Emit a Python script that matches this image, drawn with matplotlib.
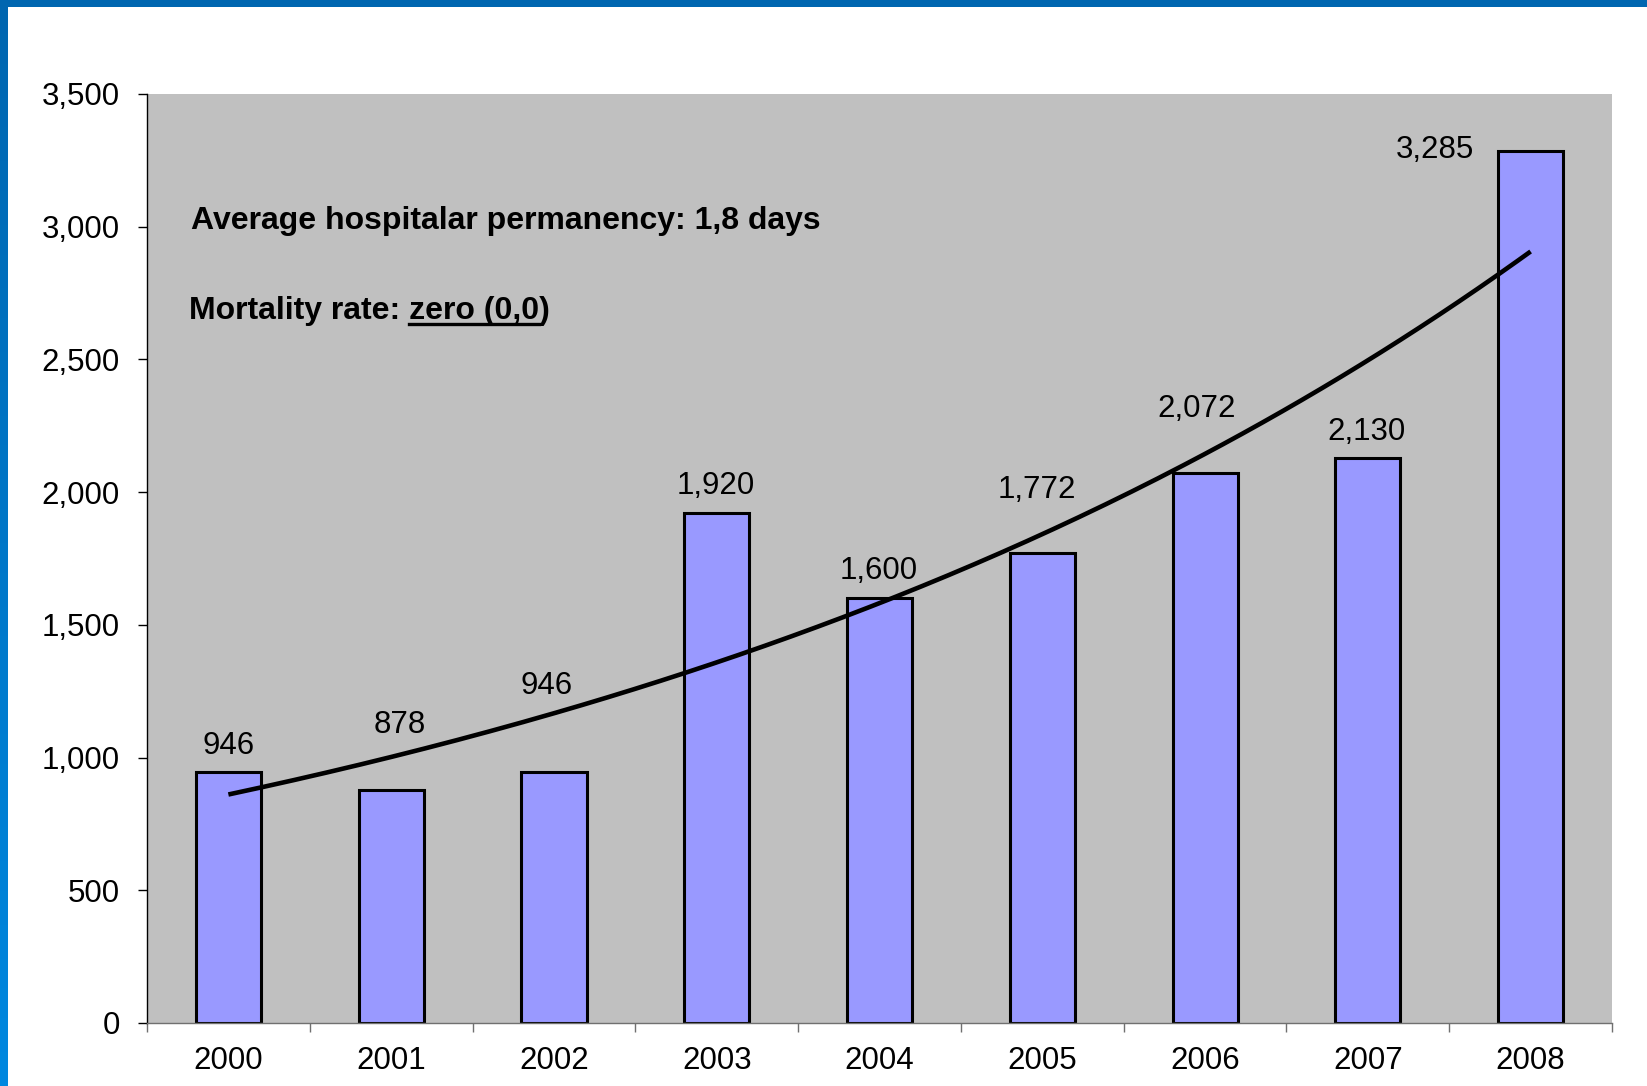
import numpy as np
import matplotlib
matplotlib.use("Agg")
import matplotlib.pyplot as plt
from matplotlib.lines import Line2D
from matplotlib.colors import LinearSegmentedColormap

plt.rcParams['font.family'] = ['Liberation Sans', 'DejaVu Sans']

# data
years = ['2000', '2001', '2002', '2003', '2004', '2005', '2006', '2007', '2008']
cases = [946, 878, 946, 1920, 1600, 1772, 2072, 2130, 3285]
labels = ['946', '878', '946', '1,920', '1,600', '1,772', '2,072', '2,130', '3,285']
# label offsets from bar top (pixels), as placed in the original
lab_dx = [0, 9, -7, -1, -1, -5, -8, -1, -96]
lab_dy = [26, 65, 86, 27, 27, 63, 64, 26, 1]

FS = 22.5

fig = plt.figure(figsize=(16.47, 10.86), dpi=100)
fig.patch.set_facecolor('white')

ax = fig.add_axes([147 / 1647, 1 - 1023 / 1086, 1465 / 1647, 929 / 1086])
ax.set_facecolor('#c0c0c0')

x = np.arange(len(years))
ax.bar(x, cases, width=0.40, color='#9999ff', edgecolor='black', linewidth=2.2, zorder=2)

# exponential trend line (least squares on log values, like Excel)
b, a = np.polyfit(x + 1, np.log(cases), 1)
xt = np.linspace(0, len(years) - 1, 200)
ax.plot(xt, np.exp(a + b * (xt + 1)), color='black', lw=3.3, zorder=3,
        solid_capstyle='butt')

for i in range(len(years)):
    ax.annotate(labels[i], (x[i], cases[i]), xytext=(lab_dx[i], lab_dy[i]),
                textcoords='offset pixels', ha='center', va='center',
                fontsize=FS, zorder=4)

ax.set_xlim(-0.5, len(years) - 0.5)
ax.set_ylim(0, 3500)
ax.set_yticks(np.arange(0, 3501, 500))
ax.set_yticklabels(['{:,}'.format(v) for v in range(0, 3501, 500)])
ax.tick_params(axis='y', length=6.5, width=1, pad=13, labelsize=FS, direction='out')

ax.set_xticks(np.arange(-0.5, len(years), 1))
ax.set_xticklabels([])
ax.set_xticks(x, minor=True)
ax.set_xticklabels(years, minor=True)
ax.tick_params(axis='x', which='major', length=6.5, width=1, color='#707070', direction='out')
ax.tick_params(axis='x', which='minor', length=0, pad=16.5, labelsize=FS)

for s in ['top', 'right']:
    ax.spines[s].set_visible(False)
ax.spines['left'].set_color('black')
ax.spines['bottom'].set_color('#707070')
ax.spines['left'].set_linewidth(1)
ax.spines['bottom'].set_linewidth(1)

# notes
ax.text(0.030, 0.8547, 'Average hospitalar permanency: 1,8 days', transform=ax.transAxes,
        fontsize=23, fontweight='bold', va='baseline', ha='left')
t1 = ax.text(0.0287, 0.7578, 'Mortality rate: zero (0,0)', transform=ax.transAxes,
             fontsize=23, fontweight='bold', va='baseline', ha='left')

# underline "zero (0,0"
fig.canvas.draw()
r = fig.canvas.get_renderer()
full_bb = t1.get_window_extent(r)
tmp = ax.text(0.0287, 0.7578, 'Mortality rate: ', transform=ax.transAxes,
              fontsize=23, fontweight='bold', va='baseline', ha='left')
w0 = tmp.get_window_extent(r).width
tmp.set_text('Mortality rate: zero (0,0')
w1 = tmp.get_window_extent(r).width
tmp.remove()
base_px = ax.transAxes.transform((0, 0.7578))[1]
uy = (base_px - 4.5) / 1086
fig.add_artist(Line2D([(full_bb.x0 + w0) / 1647, (full_bb.x0 + w1) / 1647], [uy, uy],
                      color='black', lw=2.4, transform=fig.transFigure))

# blue frame, top and left
top = fig.add_axes([0, 1 - 7 / 1086, 1, 7 / 1086])
top.set_facecolor('#0066b0')
top.set_xticks([])
top.set_yticks([])
for s in top.spines.values():
    s.set_visible(False)

left = fig.add_axes([0, 0, 8 / 1647, 1])
grad = np.linspace(0, 1, 256).reshape(-1, 1)
cm = LinearSegmentedColormap.from_list('blue', ['#0066b0', '#0088e0'])
left.imshow(grad, aspect='auto', cmap=cm)
left.axis('off')

fig.savefig('out.png', dpi=100)
